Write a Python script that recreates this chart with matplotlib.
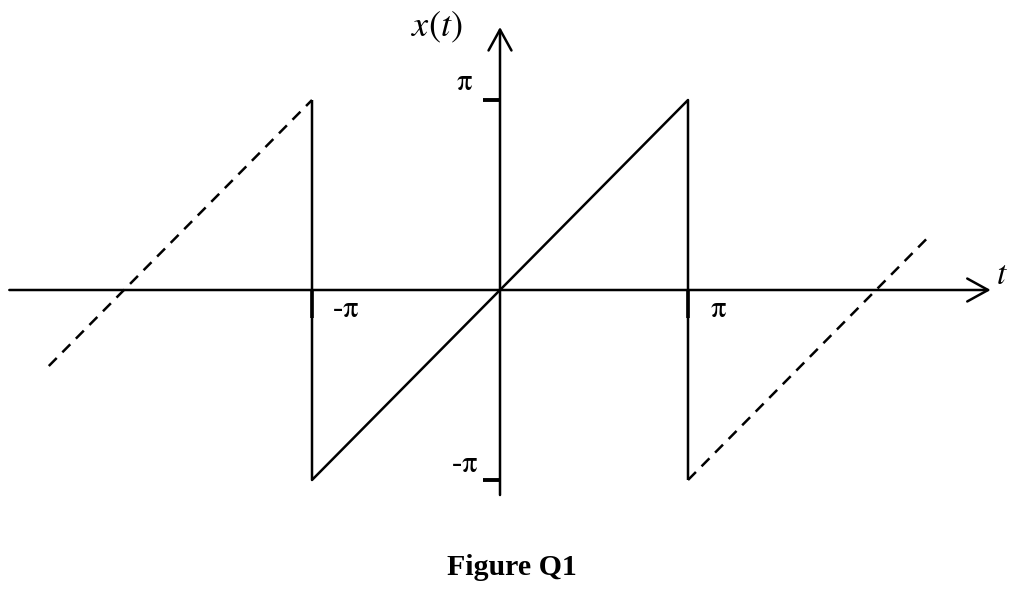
from matplotlib import pyplot as plt
import numpy as np

pi = np.pi

# sawtooth x(t) = t on (-pi, pi), periodic extension dashed
solid_t = [-pi, -pi, pi, pi]
solid_x = [pi, -pi, pi, -pi]
left_t = [-2.40 * pi, -pi]
left_x = [-0.40 * pi, pi]
right_t = [pi, 2.29 * pi]
right_x = [-pi, 0.29 * pi]

tick_vals = [-pi, pi]
xtick_labels = [r'-$\mathrm{\pi}$', r'$\mathrm{\pi}$']
ytick_labels = [r'-$\mathrm{\pi}$', r'$\mathrm{\pi}$']

plt.rcParams['font.family'] = ['Liberation Serif', 'DejaVu Serif']
plt.rcParams['mathtext.fontset'] = 'stix'

fig = plt.figure(figsize=(10.24, 5.94), dpi=100)
ax = fig.add_axes([0, 0, 1, 1])
ax.axis('off')

# pixel layout: origin at (500, 290), 188 px per pi horizontally, 190 px per pi vertically
ox = 500
sx = 188 / pi
sy = 190 / pi
ax.set_xlim(-ox / sx, (1024 - ox) / sx)
ax.set_ylim(-(594 - 290) / sy, 290 / sy)

lw = 1.8
ax.plot(solid_t, solid_x, color='black', lw=lw, solid_capstyle='butt')
ax.plot(left_t, left_x, color='black', lw=lw, ls=(0, (4.5, 3.2)))
ax.plot(right_t, right_x, color='black', lw=lw, ls=(0, (4.5, 3.2)))

# axes with arrows
arr = dict(arrowstyle='->, head_length=1.0, head_width=0.55', color='black',
           lw=lw, mutation_scale=15, shrinkA=0, shrinkB=0)
ax.annotate('', xy=(2.61 * pi, 0), xytext=(-2.61 * pi, 0), arrowprops=arr)
ax.annotate('', xy=(0, 1.384 * pi), xytext=(0, -1.079 * pi), arrowprops=arr)

# ticks
for v in tick_vals:
    ax.plot([v, v], [0, -0.147 * pi], color='black', lw=2.6, solid_capstyle='butt')
    ax.plot([-0.09 * pi, 0], [v, v], color='black', lw=2.8, solid_capstyle='butt')

fs = 22
ax.text(-0.82 * pi, -0.105 * pi, xtick_labels[0], fontsize=fs, ha='center', va='center')
ax.text(1.16 * pi, -0.105 * pi, xtick_labels[1], fontsize=fs, ha='center', va='center')
ax.text(-0.19 * pi, -0.92 * pi, ytick_labels[0], fontsize=fs, ha='center', va='center')
ax.text(-0.19 * pi, 1.09 * pi, ytick_labels[1], fontsize=fs, ha='center', va='center')

ax.text(-0.335 * pi, 1.38 * pi, r'$x(t)$', fontsize=26, ha='center', va='center')
ax.text(2.67 * pi, 0.074 * pi, r'$t$', fontsize=24, ha='center', va='center')

ax.text(0.065 * pi, -1.463 * pi, 'Figure Q1', fontsize=21.5, fontweight='bold',
        ha='center', va='center')

fig.savefig('out.png', dpi=100)
